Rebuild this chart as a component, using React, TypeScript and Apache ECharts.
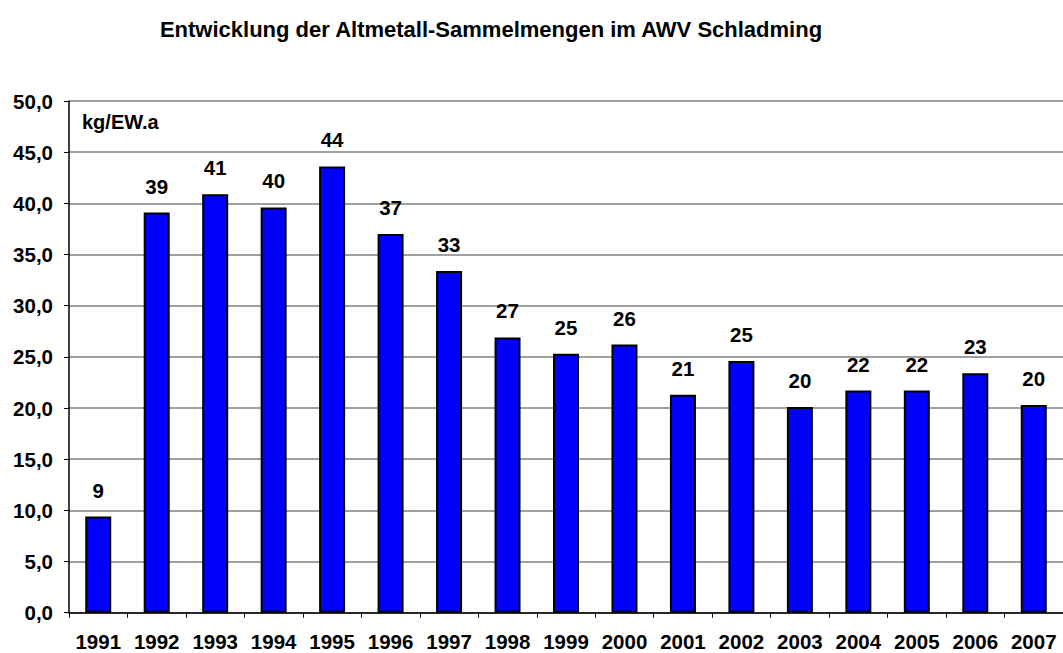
import React, { useEffect, useRef } from "react";
import * as echarts from "echarts";

const years = ["1991","1992","1993","1994","1995","1996","1997","1998","1999","2000","2001","2002","2003","2004","2005","2006","2007"];
const values = [9.4, 39.1, 40.9, 39.6, 43.6, 37.0, 33.4, 26.9, 25.3, 26.2, 21.3, 24.6, 20.1, 21.7, 21.7, 23.4, 20.3];
const titleText = "Entwicklung der Altmetall-Sammelmengen im AWV Schladming";
const unitText = "kg/EW.a";

export default function App() {
  const ref = useRef<HTMLDivElement>(null);
  useEffect(() => {
    const chart = echarts.init(ref.current!, null, { renderer: "svg" });
    const font = "Liberation Sans, Arial, sans-serif";
    chart.setOption({
      animation: false,
      backgroundColor: "#ffffff",
      title: {
        text: titleText,
        left: 486,
        textAlign: "center",
        top: 13,
        textStyle: { fontFamily: font, fontSize: 22, fontWeight: "bold", color: "#000" },
      },
      graphic: [
        {
          type: "text",
          left: 82,
          top: 112,
          style: { text: unitText, font: `bold 20px ${font}`, fill: "#000" },
        },
      ],
      grid: { left: 69, top: 101, width: 996, height: 511.7, containLabel: false },
      xAxis: {
        type: "category",
        data: years,
        axisLine: { lineStyle: { color: "#000", width: 1.5 } },
        axisTick: { show: true, length: 5, lineStyle: { color: "#000" }, alignWithLabel: false },
        axisLabel: { interval: 0, margin: 18, fontFamily: font, fontSize: 20.5, fontWeight: "bold", color: "#000" },
      },
      yAxis: {
        type: "value",
        min: 0,
        max: 50,
        interval: 5,
        axisLine: { show: true, lineStyle: { color: "#000", width: 1.5 } },
        axisTick: { show: true, length: 5, lineStyle: { color: "#000" } },
        splitLine: { show: true, lineStyle: { color: "#808080", width: 1.5 } },
        axisLabel: {
          margin: 16,
          fontFamily: font,
          fontSize: 20.5,
          fontWeight: "bold",
          color: "#000",
          formatter: (v: number) => v.toFixed(1).replace(".", ","),
        },
      },
      series: [
        {
          type: "bar",
          data: values,
          barWidth: 26,
          itemStyle: { color: "#0000ff", borderColor: "#000", borderWidth: 2 },
          label: {
            show: true,
            position: "top",
            distance: 16,
            fontFamily: font,
            fontSize: 20.5,
            fontWeight: "bold",
            color: "#000",
            formatter: (p: any) => String(Math.round(p.value)),
          },
        },
      ],
    });
    return () => chart.dispose();
  }, []);
  return <div ref={ref} style={{ position: "fixed", left: 0, top: 0, width: 1063, height: 653 }} />;
}
